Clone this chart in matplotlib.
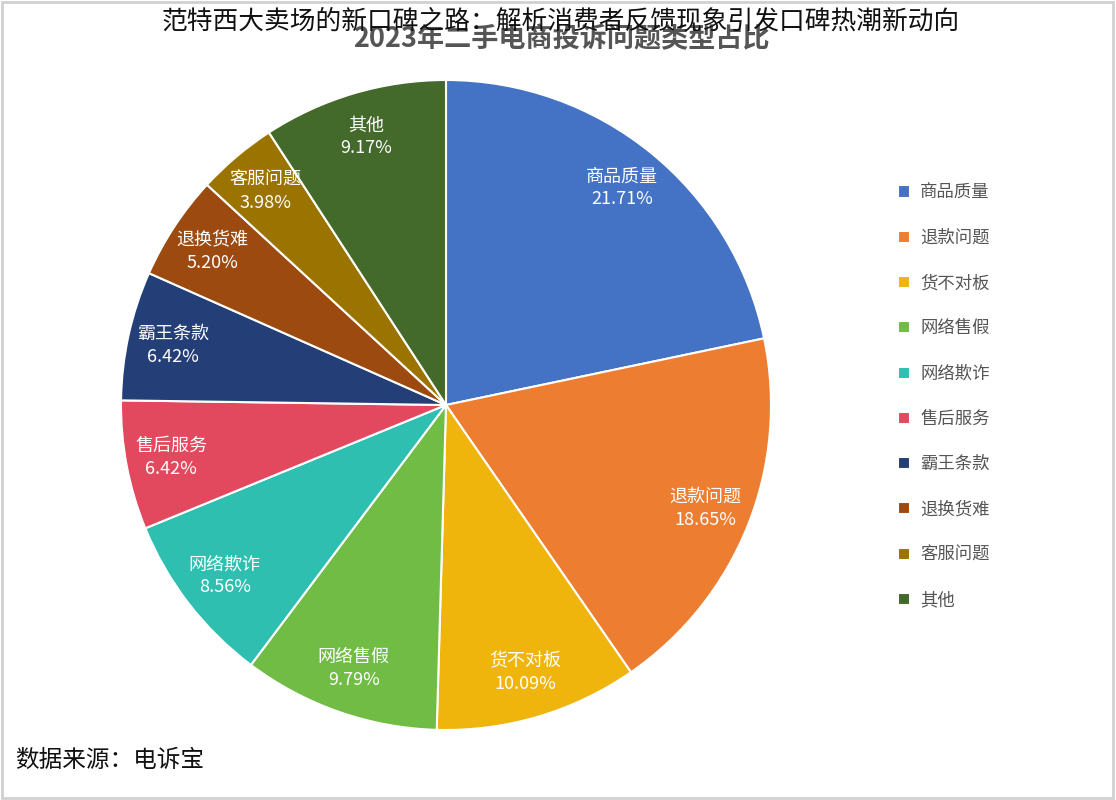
import numpy as np
import matplotlib.pyplot as plt
from matplotlib.patches import Rectangle

plt.rcParams['font.family'] = ['Noto Sans CJK SC', 'DejaVu Sans']

# data
categories = ['商品质量', '退款问题', '货不对板', '网络售假', '网络欺诈',
              '售后服务', '霸王条款', '退换货难', '客服问题', '其他']
shares = [21.71, 18.65, 10.09, 9.79, 8.56, 6.42, 6.42, 5.20, 3.98, 9.17]
colors = ['#4472C4', '#ED7D31', '#EFB50C', '#70BC45', '#2EBFB1',
          '#E2495E', '#243F78', '#9C4A10', '#9A7300', '#43692B']

title_new = '范特西大卖场的新口碑之路：解析消费者反馈现象引发口碑热潮新动向'
title_old = '2023年二手电商投诉问题类型占比'
source = '数据来源：电诉宝'

fig = plt.figure(figsize=(11.16, 8.0), dpi=100)

# old title, partly hidden under the new one
fig.text(0.503, 1 - 39 / 800, title_old, ha='center', va='center', fontsize=19.5,
         fontweight='bold', color='#555555')
fig.patches.append(Rectangle((0, 1 - 27 / 800), 1, 27 / 800, transform=fig.transFigure,
                             facecolor='white', edgecolor='none', zorder=1))
fig.text(0.502, 0.973, title_new, ha='center', va='center', fontsize=18.5,
         fontweight='light', color='#111111', zorder=3)

# pie
ax = fig.add_axes([121 / 1116, 70 / 800, 650 / 1116, 650 / 800])
wedges, _ = ax.pie(shares, colors=colors, startangle=90, counterclock=False,
                   radius=1, wedgeprops=dict(edgecolor='white', linewidth=1.5))
ax.set_xlim(-1, 1)
ax.set_ylim(-1, 1)
ax.set_aspect('equal')
ax.axis('off')

for w, name, val in zip(wedges, categories, shares):
    mid = np.deg2rad((w.theta1 + w.theta2) / 2)
    r = 0.86
    ax.text(r * np.cos(mid), r * np.sin(mid), f'{name}\n{val:.2f}%',
            ha='center', va='center', color='white', fontsize=13,
            linespacing=1.35)

# legend
leg = fig.legend(wedges, categories, loc='upper left',
                 bbox_to_anchor=(882 / 1116, 1 - 168 / 800), frameon=False,
                 fontsize=12.5, labelcolor='#555555', handlelength=0.7,
                 handleheight=0.7, handletextpad=0.6, labelspacing=1.57)

fig.text(15 / 1116, 1 - 760 / 800, source, ha='left', va='center',
         fontsize=17, color='#111111')

# light frame around the image
fig.patches.append(Rectangle((0.002, 0.003), 0.995, 0.994, transform=fig.transFigure,
                             facecolor='none', edgecolor='#d0d0d0', linewidth=2))

fig.savefig('out.png', dpi=100)
